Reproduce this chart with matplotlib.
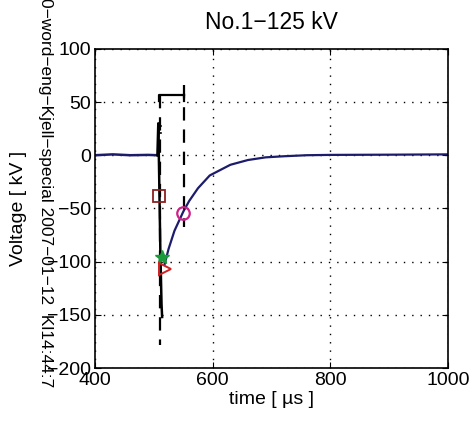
import matplotlib
matplotlib.use("Agg")
import matplotlib.pyplot as plt

plt.rcParams['font.family'] = ['Liberation Sans', 'DejaVu Sans']

# Baseline before the impulse
base_t = [400, 430, 460, 490, 506]
base_v = [0, 0.8, 0, 0.3, 0]

# Measured steep front (black)
spike_t = [506, 507.5, 509, 511, 513, 514]
spike_v = [0, 30, -20, -90, -140, -152]

# Fitted tail (navy)
tail_t = [518, 525, 535, 545, 550, 560, 575, 595, 630, 660, 690, 720, 760, 800, 900, 1000]
tail_v = [-103, -88, -71, -59, -53, -43, -31, -19, -9, -4.5, -2, -1, 0, 0.3, 0.5, 0.8]

# Time markers
t_front = 510
t_tail = 551
bracket_level = 57
front_span = [57, -178]
tail_span = [66, -67]

# Marker points
square_pt = (508, -38)
circle_pt = (549, -54)
star_pt = (514, -96)
tri_pt = (519, -107)

xticks = [400, 600, 800, 1000]
yticks = [-200, -150, -100, -50, 0, 50, 100]

fig = plt.figure(figsize=(4.73, 4.28), dpi=100)
ax = fig.add_axes([0.201, 0.140, 0.746, 0.746])

ax.plot(base_t, base_v, color='#1c1c6a', lw=1.8)
ax.plot(spike_t, spike_v, color='black', lw=1.8)
ax.plot(tail_t, tail_v, color='#1c1c6a', lw=1.6)

ax.plot([t_front, t_front], front_span, color='black', lw=1.6, ls=(0, (6, 4)))
ax.plot([t_tail, t_tail], tail_span, color='black', lw=1.6, ls=(0, (6, 4)))
ax.plot([t_front - 2, t_front - 2, t_tail], [bracket_level - 6, bracket_level, bracket_level],
        color='black', lw=1.6)
ax.plot([t_tail, t_tail], [bracket_level, bracket_level - 6], color='black', lw=1.6)
ax.plot([508, 512], [27, 27], color='black', lw=1.2)
ax.plot([508, 512], [21, 21], color='black', lw=1.2)

ax.plot(*square_pt, marker='s', ms=8, mfc='none', mec='#8b2020', mew=1.3)
ax.plot(*circle_pt, marker='o', ms=9, mfc='none', mec='#d0208a', mew=1.6)
ax.plot(*star_pt, marker='*', ms=10, color='#1a9a3a')
ax.plot(*tri_pt, marker='>', ms=8, mfc='none', mec='#d02020', mew=1.4)

ax.set_xlim(400, 1000)
ax.set_ylim(-200, 100)
ax.set_xticks(xticks)
ax.set_yticks(yticks)
ax.tick_params(direction='in', top=True, right=True, labelsize=14, length=4, pad=3)
ax.grid(True, color='black', ls=(0, (1, 5)), lw=1.0)
for s in ax.spines.values():
    s.set_linewidth(1.2)

ax.set_title('No.1\u2212125 kV', fontsize=16.5, pad=14)
ax.set_xlabel('time [ \u00b5s ]', fontsize=14, labelpad=1)
ax.set_ylabel('Voltage [ kV ]', fontsize=14, labelpad=14)

fig.text(45 / 473, 1.005, '0\u2212word\u2212eng\u2212Kjell\u2212special 2007\u221201\u221212  Kl14:44:7',
         rotation=270, ha='center', va='top', fontsize=12.5)

fig.savefig('out.png', dpi=100)
